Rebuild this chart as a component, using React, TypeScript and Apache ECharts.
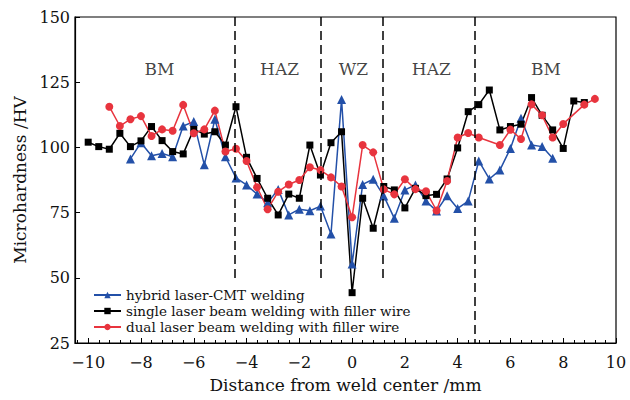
import React, { useEffect, useRef } from 'react';
import * as echarts from 'echarts';

const seriesNames = [
  'hybrid laser-CMT welding',
  'single laser beam welding with filler wire',
  'dual laser beam welding with filler wire',
];

const hybridX = [-8.4, -8.0, -7.6, -7.2, -6.8, -6.4, -6.0, -5.6, -5.2, -4.8, -4.4, -4.0, -3.6, -3.2, -2.8, -2.4, -2.0, -1.6, -1.2, -0.8, -0.4, 0, 0.4, 0.8, 1.2, 1.6, 2.0, 2.4, 2.8, 3.2, 3.6, 4.0, 4.4, 4.8, 5.2, 5.6, 6.0, 6.4, 6.8, 7.2, 7.6];
const hybridY = [95.6, 101.8, 96.8, 97.7, 96.4, 108.2, 109.9, 93.3, 110.8, 96.4, 88.3, 85.6, 82.1, 78.8, 83.9, 74.1, 76.3, 75.7, 77.5, 66.8, 118.4, 55.3, 85.8, 87.8, 81.4, 72.8, 83.7, 85.6, 79.4, 75.6, 81.5, 76.6, 79.4, 94.8, 87.9, 91.3, 99.6, 111.2, 100.9, 100.3, 95.8];

const singleX = [-10, -9.6, -9.2, -8.8, -8.4, -8.0, -7.6, -7.2, -6.8, -6.4, -6.0, -5.6, -5.2, -4.8, -4.4, -4.0, -3.6, -3.2, -2.8, -2.4, -2.0, -1.6, -1.2, -0.8, -0.4, 0, 0.4, 0.8, 1.2, 1.6, 2.0, 2.4, 2.8, 3.2, 3.6, 4.0, 4.4, 4.8, 5.2, 5.6, 6.0, 6.4, 6.8, 7.2, 7.6, 8.0, 8.4, 8.8];
const singleY = [102, 100.3, 99.3, 105.4, 100.3, 102.5, 108, 102.6, 98.4, 97.5, 106.9, 105.1, 106, 100.9, 115.6, 96.2, 88.1, 80.5, 74.1, 82.1, 80.5, 100.9, 89.4, 101.8, 106, 44.3, 80.5, 69, 85, 83.7, 76.8, 84.3, 81.5, 82, 87.9, 99.8, 113.7, 116.4, 122, 106.7, 108, 108.9, 119.1, 112.3, 106.7, 99.6, 117.8, 117.2];

const dualX = [-9.2, -8.8, -8.4, -8.0, -7.6, -7.2, -6.8, -6.4, -6.0, -5.6, -5.2, -4.8, -4.4, -4.0, -3.6, -3.2, -2.8, -2.4, -2.0, -1.6, -1.2, -0.8, -0.4, 0, 0.4, 0.8, 1.2, 1.6, 2.0, 2.4, 2.8, 3.2, 3.6, 4.0, 4.4, 4.8, 5.6, 6.0, 6.4, 6.8, 7.2, 7.6, 8.0, 8.8, 9.2];
const dualY = [115.6, 108.2, 110.8, 112, 104.4, 106.9, 106.4, 116.3, 105.4, 106.9, 114.1, 98.4, 99.5, 94.8, 84.7, 76.3, 83, 85.8, 87.5, 92.4, 91.3, 88.5, 85, 73.2, 100.9, 98.1, 83.9, 82, 87.8, 84, 83.2, 75.8, 87.1, 103.8, 105.5, 103.8, 100.9, 106.8, 103.2, 116.5, 112.3, 103.8, 109, 116.4, 118.6];

const zoneBoundaries = [-4.46, -1.2, 1.15, 4.66];
const zoneBoundaryBottom = [48.8, 48.8, 48.8, 25];
const zoneNames = ['BM', 'HAZ', 'WZ', 'HAZ', 'BM'];
const zoneLabelX = [-7.3, -2.75, 0.05, 3.0, 7.35];
const zoneLabelY = 130;

const xTickValues = [-10, -8, -6, -4, -2, 0, 2, 4, 6, 8, 10];

const FONT = 'DejaVu Serif';

function zip(xs: number[], ys: number[]) {
  return xs.map((x, i) => [x, ys[i]]);
}

export default function App() {
  const ref = useRef<HTMLDivElement>(null);
  useEffect(() => {
    document.body.style.margin = '0';
    if (!ref.current) return;
    const chart = echarts.init(ref.current, undefined, { renderer: 'svg' });
    const minorTicks: number[] = [];
    for (let i = -26; i <= 25; i++) minorTicks.push(Math.round(i * 0.4 * 10) / 10);

    const option: any = {
      animation: false,
      backgroundColor: '#fff',
      grid: {
        left: 75,
        right: 14,
        top: 17,
        bottom: 57,
        show: true,
        borderColor: '#000',
        borderWidth: 1.2,
        backgroundColor: 'transparent',
      },
      legend: {
        data: seriesNames,
        orient: 'vertical',
        left: 93,
        top: 288,
        itemWidth: 27,
        itemHeight: 8,
        itemGap: 2,
        padding: 0,
        textStyle: { fontFamily: FONT, fontSize: 13.5, color: '#111' },
      },
      xAxis: [
        {
          type: 'value',
          min: -10.5,
          max: 10,
          name: 'Distance from weld center /mm',
          nameLocation: 'middle',
          nameGap: 33,
          nameTextStyle: { fontFamily: FONT, fontSize: 17, color: '#111' },
          axisLine: { show: true, onZero: false, lineStyle: { color: '#000', width: 1.2 } },
          axisTick: { show: true, inside: true, length: 5, customValues: xTickValues, lineStyle: { color: '#000' } },
          axisLabel: {
            customValues: xTickValues,
            margin: 11,
            fontFamily: FONT,
            fontSize: 16,
            color: '#111',
            formatter: (v: number) => (v < 0 ? '\u2212' + Math.abs(v) : String(v)),
          },
          splitLine: { show: false },
        },
        {
          type: 'value',
          min: -10.5,
          max: 10,
          position: 'bottom',
          axisLine: { show: false, onZero: false },
          axisTick: { show: true, inside: true, length: 3, customValues: minorTicks, lineStyle: { color: '#000' } },
          axisLabel: { show: false },
          splitLine: { show: false },
        },
      ],
      yAxis: {
        type: 'value',
        min: 25,
        max: 150,
        interval: 25,
        name: 'Microhardness /HV',
        nameLocation: 'middle',
        nameGap: 42,
        nameTextStyle: { fontFamily: FONT, fontSize: 17, color: '#111' },
        axisLine: { show: true, onZero: false, lineStyle: { color: '#000', width: 1.2 } },
        axisTick: { show: true, inside: true, length: 5, lineStyle: { color: '#000' } },
        axisLabel: { margin: 5, fontFamily: FONT, fontSize: 16, color: '#111' },
        splitLine: { show: false },
      },
      series: [
        {
          name: seriesNames[0],
          type: 'line',
          data: zip(hybridX, hybridY),
          symbol: 'triangle',
          symbolSize: 9,
          color: '#2350a8',
          lineStyle: { width: 1.5, color: '#2350a8' },
          itemStyle: { color: '#2350a8' },
          markLine: {
            silent: true,
            symbol: 'none',
            label: { show: false },
            lineStyle: { color: '#000', width: 1.5, type: [9, 5] },
            data: zoneBoundaries.map((b, i) => [
              { coord: [b, 150] },
              { coord: [b, zoneBoundaryBottom[i]] },
            ]),
          },
        },
        {
          name: seriesNames[1],
          type: 'line',
          data: zip(singleX, singleY),
          symbol: 'rect',
          symbolSize: 7,
          color: '#000',
          lineStyle: { width: 1.5, color: '#000' },
          itemStyle: { color: '#000' },
        },
        {
          name: seriesNames[2],
          type: 'line',
          data: zip(dualX, dualY),
          symbol: 'circle',
          symbolSize: 8,
          color: '#e8343e',
          lineStyle: { width: 1.5, color: '#e8343e' },
          itemStyle: { color: '#e8343e' },
        },
        {
          name: 'zones',
          type: 'scatter',
          silent: true,
          symbolSize: 1,
          itemStyle: { color: 'rgba(0,0,0,0)' },
          data: zoneNames.map((n, i) => ({ name: n, value: [zoneLabelX[i], zoneLabelY] })),
          label: {
            show: true,
            position: 'inside',
            formatter: (p: any) => p.name,
            fontFamily: FONT,
            fontSize: 17,
            color: '#111',
          },
        },
      ],
    };
    chart.setOption(option);
    return () => chart.dispose();
  }, []);
  return <div ref={ref} style={{ width: 630, height: 400 }} />;
}
